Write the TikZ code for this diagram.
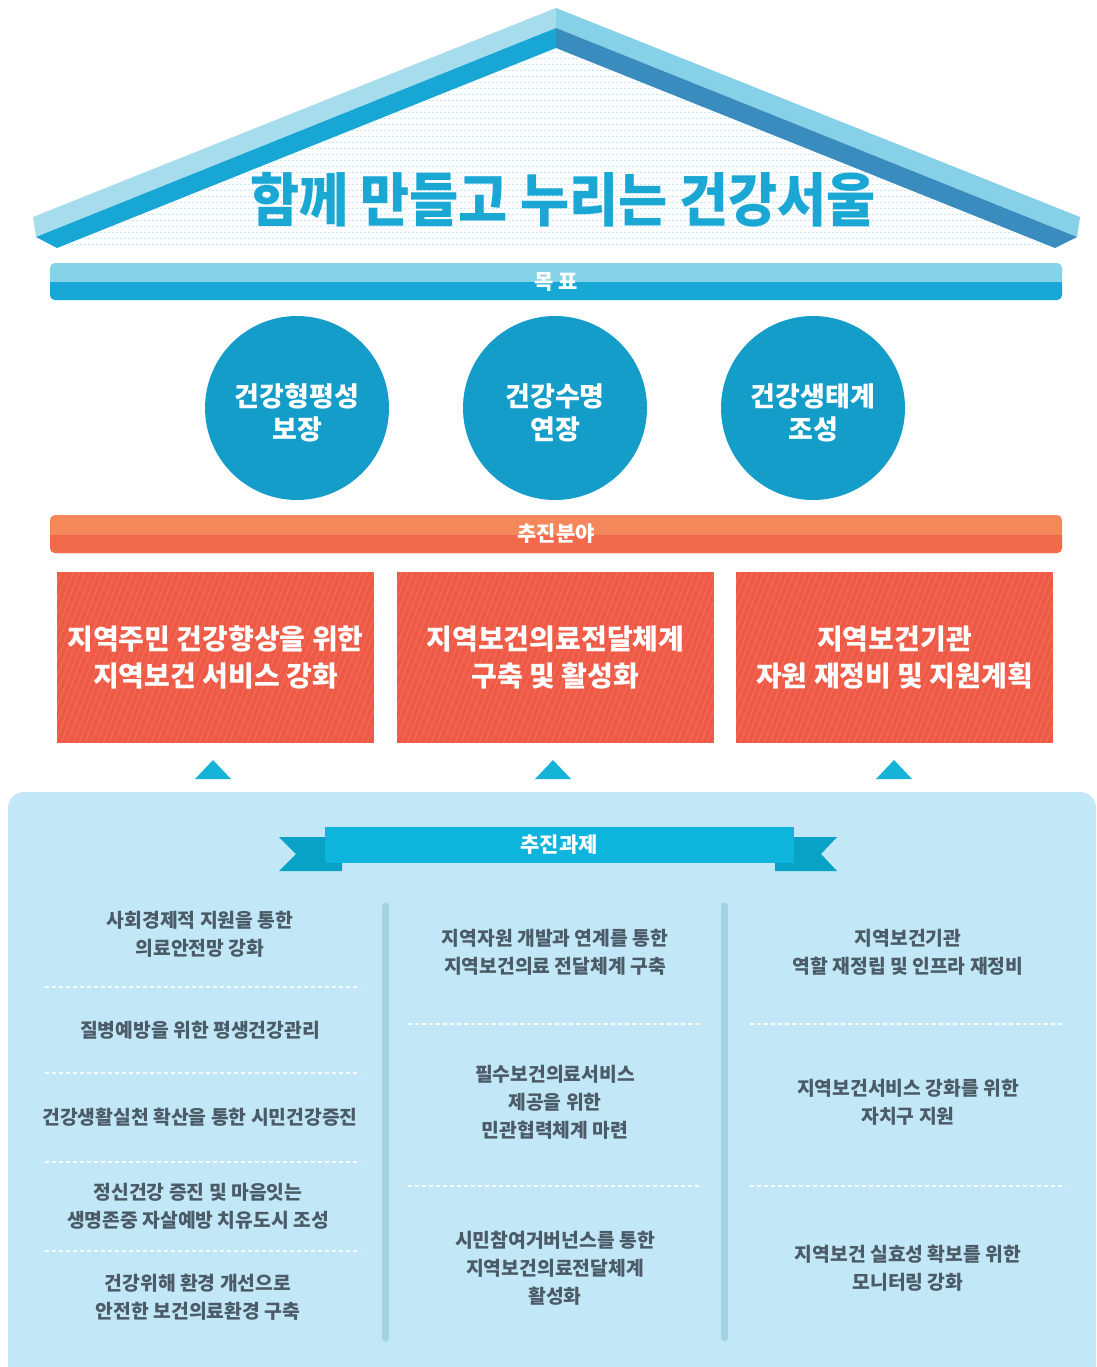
\documentclass[tikz,border=0pt]{standalone}
\usepackage{fontspec}
\setmainfont{Noto Sans CJK KR}
\definecolor{rooflight}{HTML}{A6DCEC}
\definecolor{rooflightR}{HTML}{86D0E8}
\definecolor{roofmidL}{HTML}{18A6D5}
\definecolor{roofdarkR}{HTML}{3A8CBF}
\definecolor{titleblue}{HTML}{1AA7D4}
\definecolor{barlight}{HTML}{86D3E8}
\definecolor{bardark}{HTML}{17A8D6}
\definecolor{circblue}{HTML}{149DC9}
\definecolor{orglight}{HTML}{F5885A}
\definecolor{orgdark}{HTML}{F06A4B}
\definecolor{redbox}{HTML}{EE5A45}
\definecolor{redhatch}{HTML}{F27362}
\definecolor{tri}{HTML}{16B3D9}
\definecolor{panel}{HTML}{C2E8F7}
\definecolor{ribbon}{HTML}{0DB4DB}
\definecolor{ribbondark}{HTML}{08A2C6}
\definecolor{sep}{HTML}{A3D2E2}
\definecolor{graytext}{HTML}{4B5B67}
\definecolor{dotline}{HTML}{C9E6F0}
\tikzset{
  bartext/.style={text=white,font=\bfseries\fontsize{21}{24}\selectfont,inner sep=0pt},
  goal/.style={circle,fill=circblue,minimum size=184pt,inner sep=0pt},
  goaltext/.style={text=white,align=center,inner sep=0pt,font=\bfseries\fontsize{27}{33}\selectfont},
  area/.style={rectangle,fill=redbox,minimum width=317pt,minimum height=171pt,inner sep=0pt,
    text=white,align=center,font=\bfseries\fontsize{28}{37}\selectfont,
    path picture={\foreach \i in {-200,-194,...,330}{
      \draw[redhatch,line width=0.7pt] ([xshift=\i pt]path picture bounding box.south west) -- ++(70,-180);}}},
  task/.style={text=graygtext,align=center,inner sep=0pt},
  task/.style={text=graytext,align=center,font=\bfseries\fontsize{19.3}{28}\selectfont,inner sep=0pt},
  dashline/.style={draw=white!85!panel,line width=1.2pt,dash pattern=on 4pt off 3pt},
  sepline/.style={draw=sep,line width=7pt,line cap=round}
}
\begin{document}
\begin{tikzpicture}[x=1pt,y=-1pt]
\useasboundingbox (0,0) rectangle (1096,1367);
\fill[white] (0,0) rectangle (1096,1367);
% roof interior
\fill[white!92!dotline] (556,48) -- (57,248) -- (1055,248) -- cycle;
\begin{scope}
\clip (556,48) -- (57,248) -- (1055,248) -- cycle;
\foreach \y in {52,58,...,250}{\draw[dotline,line width=0.8pt,dash pattern=on 2pt off 2pt] (40,\y) -- (1070,\y);}
\end{scope}
% roof left
\fill[rooflight] (556,8) -- (33,217) -- (36,237) -- (556,28) -- cycle;
\fill[roofmidL] (556,28) -- (36,237) -- (57,248) -- (556,48) -- cycle;
% roof right
\fill[rooflightR] (556,8) -- (1080,217) -- (1077,237) -- (556,28) -- cycle;
\fill[roofdarkR] (556,28) -- (1077,237) -- (1055,248) -- (556,48) -- cycle;
\node[text=titleblue,font=\bfseries\fontsize{58}{60}\selectfont,inner sep=0pt,xscale=0.92] (title) at (563,200) {함께 만들고 누리는 건강서울};
% goal bar
\fill[barlight,rounded corners=5pt] (50,263) rectangle (1062,300);
\fill[bardark,rounded corners=5pt] (50,282) rectangle (1062,300);
\fill[bardark] (50,282) rectangle (1062,290);
\node[bartext] (goalbar) at (556,282) {목 표};
% circles
\node[goal] (g1) at (297,408) {};
\node[goal] (g2) at (555,408) {};
\node[goal] (g3) at (813,408) {};
\node[goaltext] (g1t) at ([yshift=-5pt]g1.center) {건강형평성\\보장};
\node[goaltext] (g2t) at ([yshift=-5pt]g2.center) {건강수명\\연장};
\node[goaltext] (g3t) at ([yshift=-5pt]g3.center) {건강생태계\\조성};
% area bar
\fill[orglight,rounded corners=5pt] (50,515) rectangle (1062,553);
\fill[orgdark,rounded corners=5pt] (50,535) rectangle (1062,553);
\fill[orgdark] (50,535) rectangle (1062,543);
\node[bartext] (areabar) at (556,534) {추진분야};
% red boxes
\node[area] (a1) at (215.5,657.5) {지역주민 건강향상을 위한\\지역보건 서비스 강화};
\node[area] (a2) at (555.5,657.5) {지역보건의료전달체계\\구축 및 활성화};
\node[area] (a3) at (894.5,657.5) {지역보건기관\\자원 재정비 및 지원계획};
% triangles
\fill[tri] (213,760) -- (195,779) -- (231,779) -- cycle;
\fill[tri] (553,760) -- (535,779) -- (571,779) -- cycle;
\fill[tri] (894,760) -- (876,779) -- (912,779) -- cycle;
% panel
\fill[panel,rounded corners=16pt] (8,1400) -- (8,792) -- (1096,792) -- (1096,1400) -- cycle;
% ribbon
\fill[ribbondark] (342,837) -- (279,837) -- (296,854) -- (279,871) -- (342,871) -- cycle;
\fill[ribbondark] (775,837) -- (837,837) -- (821,854) -- (837,871) -- (775,871) -- cycle;
\node[fill=ribbon,minimum width=469pt,minimum height=36pt,inner sep=0pt,text=white,
  font=\bfseries\fontsize{21}{24}\selectfont] (ribbon) at (559,845) {추진과제};
% separators
\draw[sepline] (385,906) -- (385,1338);
\draw[sepline] (724,906) -- (724,1338);
% column 1
\node[task] (t11) at (200,934) {사회경제적 지원을 통한\\의료안전망 강화};
\draw[dashline] (45,987) -- (360,987);
\node[task] (t12) at (200,1030) {질병예방을 위한 평생건강관리};
\draw[dashline] (45,1073) -- (360,1073);
\node[task] (t13) at (200,1117) {건강생활실천 확산을 통한 시민건강증진};
\draw[dashline] (45,1162) -- (360,1162);
\node[task] (t14) at (198,1206) {정신건강 증진 및 마음잇는\\생명존중 자살예방 치유도시 조성};
\draw[dashline] (45,1251) -- (360,1251);
\node[task] (t15) at (198,1297) {건강위해 환경 개선으로\\안전한 보건의료환경 구축};
% column 2
\node[task] (t21) at (555,952) {지역자원 개발과 연계를 통한\\지역보건의료 전달체계 구축};
\draw[dashline] (408,1024) -- (702,1024);
\node[task] (t22) at (555,1102) {필수보건의료서비스\\제공을 위한\\민관협력체계 마련};
\draw[dashline] (408,1186) -- (702,1186);
\node[task] (t23) at (555,1268) {시민참여거버넌스를 통한\\지역보건의료전달체계\\활성화};
% column 3
\node[task] (t31) at (908,952) {지역보건기관\\역할 재정립 및 인프라 재정비};
\draw[dashline] (750,1024) -- (1065,1024);
\node[task] (t32) at (908,1102) {지역보건서비스 강화를 위한\\자치구 지원};
\draw[dashline] (750,1186) -- (1065,1186);
\node[task] (t33) at (908,1268) {지역보건 실효성 확보를 위한\\모니터링 강화};
\end{tikzpicture}
\end{document}
